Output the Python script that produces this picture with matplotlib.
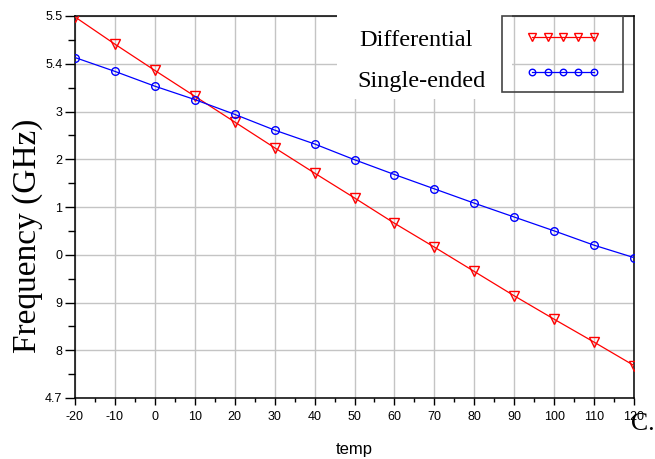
import matplotlib
matplotlib.use('Agg')
import matplotlib.pyplot as plt
from matplotlib.patches import Rectangle
from matplotlib.ticker import MultipleLocator

# данные
temp = [-20, -10, 0, 10, 20, 30, 40, 50, 60, 70, 80, 90, 100, 110, 120]
freq_diff = [5.498, 5.441, 5.386, 5.332, 5.278, 5.224, 5.171, 5.119, 5.066,
             5.016, 4.965, 4.914, 4.865, 4.817, 4.768]
freq_single = [5.413, 5.384, 5.353, 5.325, 5.294, 5.261, 5.232, 5.199, 5.168,
               5.138, 5.108, 5.079, 5.050, 5.020, 4.994]
y_ticks = [5.5, 5.4, 5.3, 5.2, 5.1, 5.0, 4.9, 4.8, 4.7]
y_tick_labels = ['5.5', '5.4', '3', '2', '1', '0', '9', '8', '4.7']
x_ticks = [-20, -10, 0, 10, 20, 30, 40, 50, 60, 70, 80, 90, 100, 110, 120]
series_names = ['Differential', 'Single-ended']

W, H = 655, 459
SANS = ['Liberation Sans', 'DejaVu Sans']
SERIF = ['Liberation Serif', 'DejaVu Serif']

fig = plt.figure(figsize=(W / 100, H / 100), dpi=100)
ax = fig.add_axes([75 / W, 1 - 398 / H, (634 - 75) / W, (398 - 16) / H])

ax.plot(temp, freq_diff, color='#ff0000', lw=0.9, marker='v', ms=6.5,
        mfc='none', mec='#ff0000', mew=1.0, zorder=3)
ax.plot(temp, freq_single, color='#0000ff', lw=0.9, marker='o', ms=5.5,
        mfc='none', mec='#0000ff', mew=1.0, zorder=3)

ax.set_xlim(-20, 120)
ax.set_ylim(4.7, 5.5)
ax.set_xticks(x_ticks)
ax.set_xticklabels([str(t) for t in x_ticks], family=SANS, fontsize=9)
ax.set_yticks(y_ticks)
ax.set_yticklabels(y_tick_labels, family=SANS, fontsize=9)
ax.xaxis.set_minor_locator(MultipleLocator(5))
ax.yaxis.set_minor_locator(MultipleLocator(0.05))
ax.tick_params(axis='x', which='major', direction='out', length=5, width=1, pad=4)
ax.tick_params(axis='x', which='minor', direction='out', length=3, width=1)
ax.tick_params(axis='y', which='major', direction='out', length=7, width=1, pad=2)
ax.tick_params(axis='y', which='minor', direction='out', length=5, width=1)
ax.grid(True, which='major', color='#c4c4c4', lw=1.0)
ax.set_axisbelow(True)
for s in ax.spines.values():
    s.set_linewidth(1.1)
    s.set_color('black')

ax.set_xlabel('temp', family=SANS, fontsize=12, labelpad=14)
fig.text(28 / W, 1 - 236 / H, 'Frequency (GHz)', rotation=90, ha='center',
         va='center', family=SERIF, fontsize=24)
fig.text(631 / W, 1 - 424 / H, 'C.', ha='left', va='center', family=SERIF,
         fontsize=18.5)

# легенда: белая подложка под текстом и рамка вокруг образцов линий
fig.patches.append(Rectangle((337 / W, 1 - 99 / H), (512 - 337) / W, 99 / H,
                             transform=fig.transFigure, facecolor='white',
                             edgecolor='none', zorder=3))
fig.patches.append(Rectangle((502 / W, 1 - 92 / H), (623 - 502) / W, (92 - 16) / H,
                             transform=fig.transFigure, facecolor='none',
                             edgecolor='#444444', lw=1.2, zorder=4))
handles = ax.get_lines()
fig.legend(handles, ['', ''], loc='center', bbox_to_anchor=(563 / W, 1 - 57 / H),
           bbox_transform=fig.transFigure, frameon=False, numpoints=5,
           markerscale=0.85, handlelength=3.3, handletextpad=0,
           labelspacing=0.6, borderpad=0,
           prop={'family': SERIF, 'size': 16.5})
fig.text(359 / W, 1 - 40 / H, series_names[0], ha='left', va='center',
         family=SERIF, fontsize=17.5, zorder=6)
fig.text(357 / W, 1 - 81 / H, series_names[1], ha='left', va='center',
         family=SERIF, fontsize=17.5, zorder=6)

fig.savefig('out.png', dpi=100)
